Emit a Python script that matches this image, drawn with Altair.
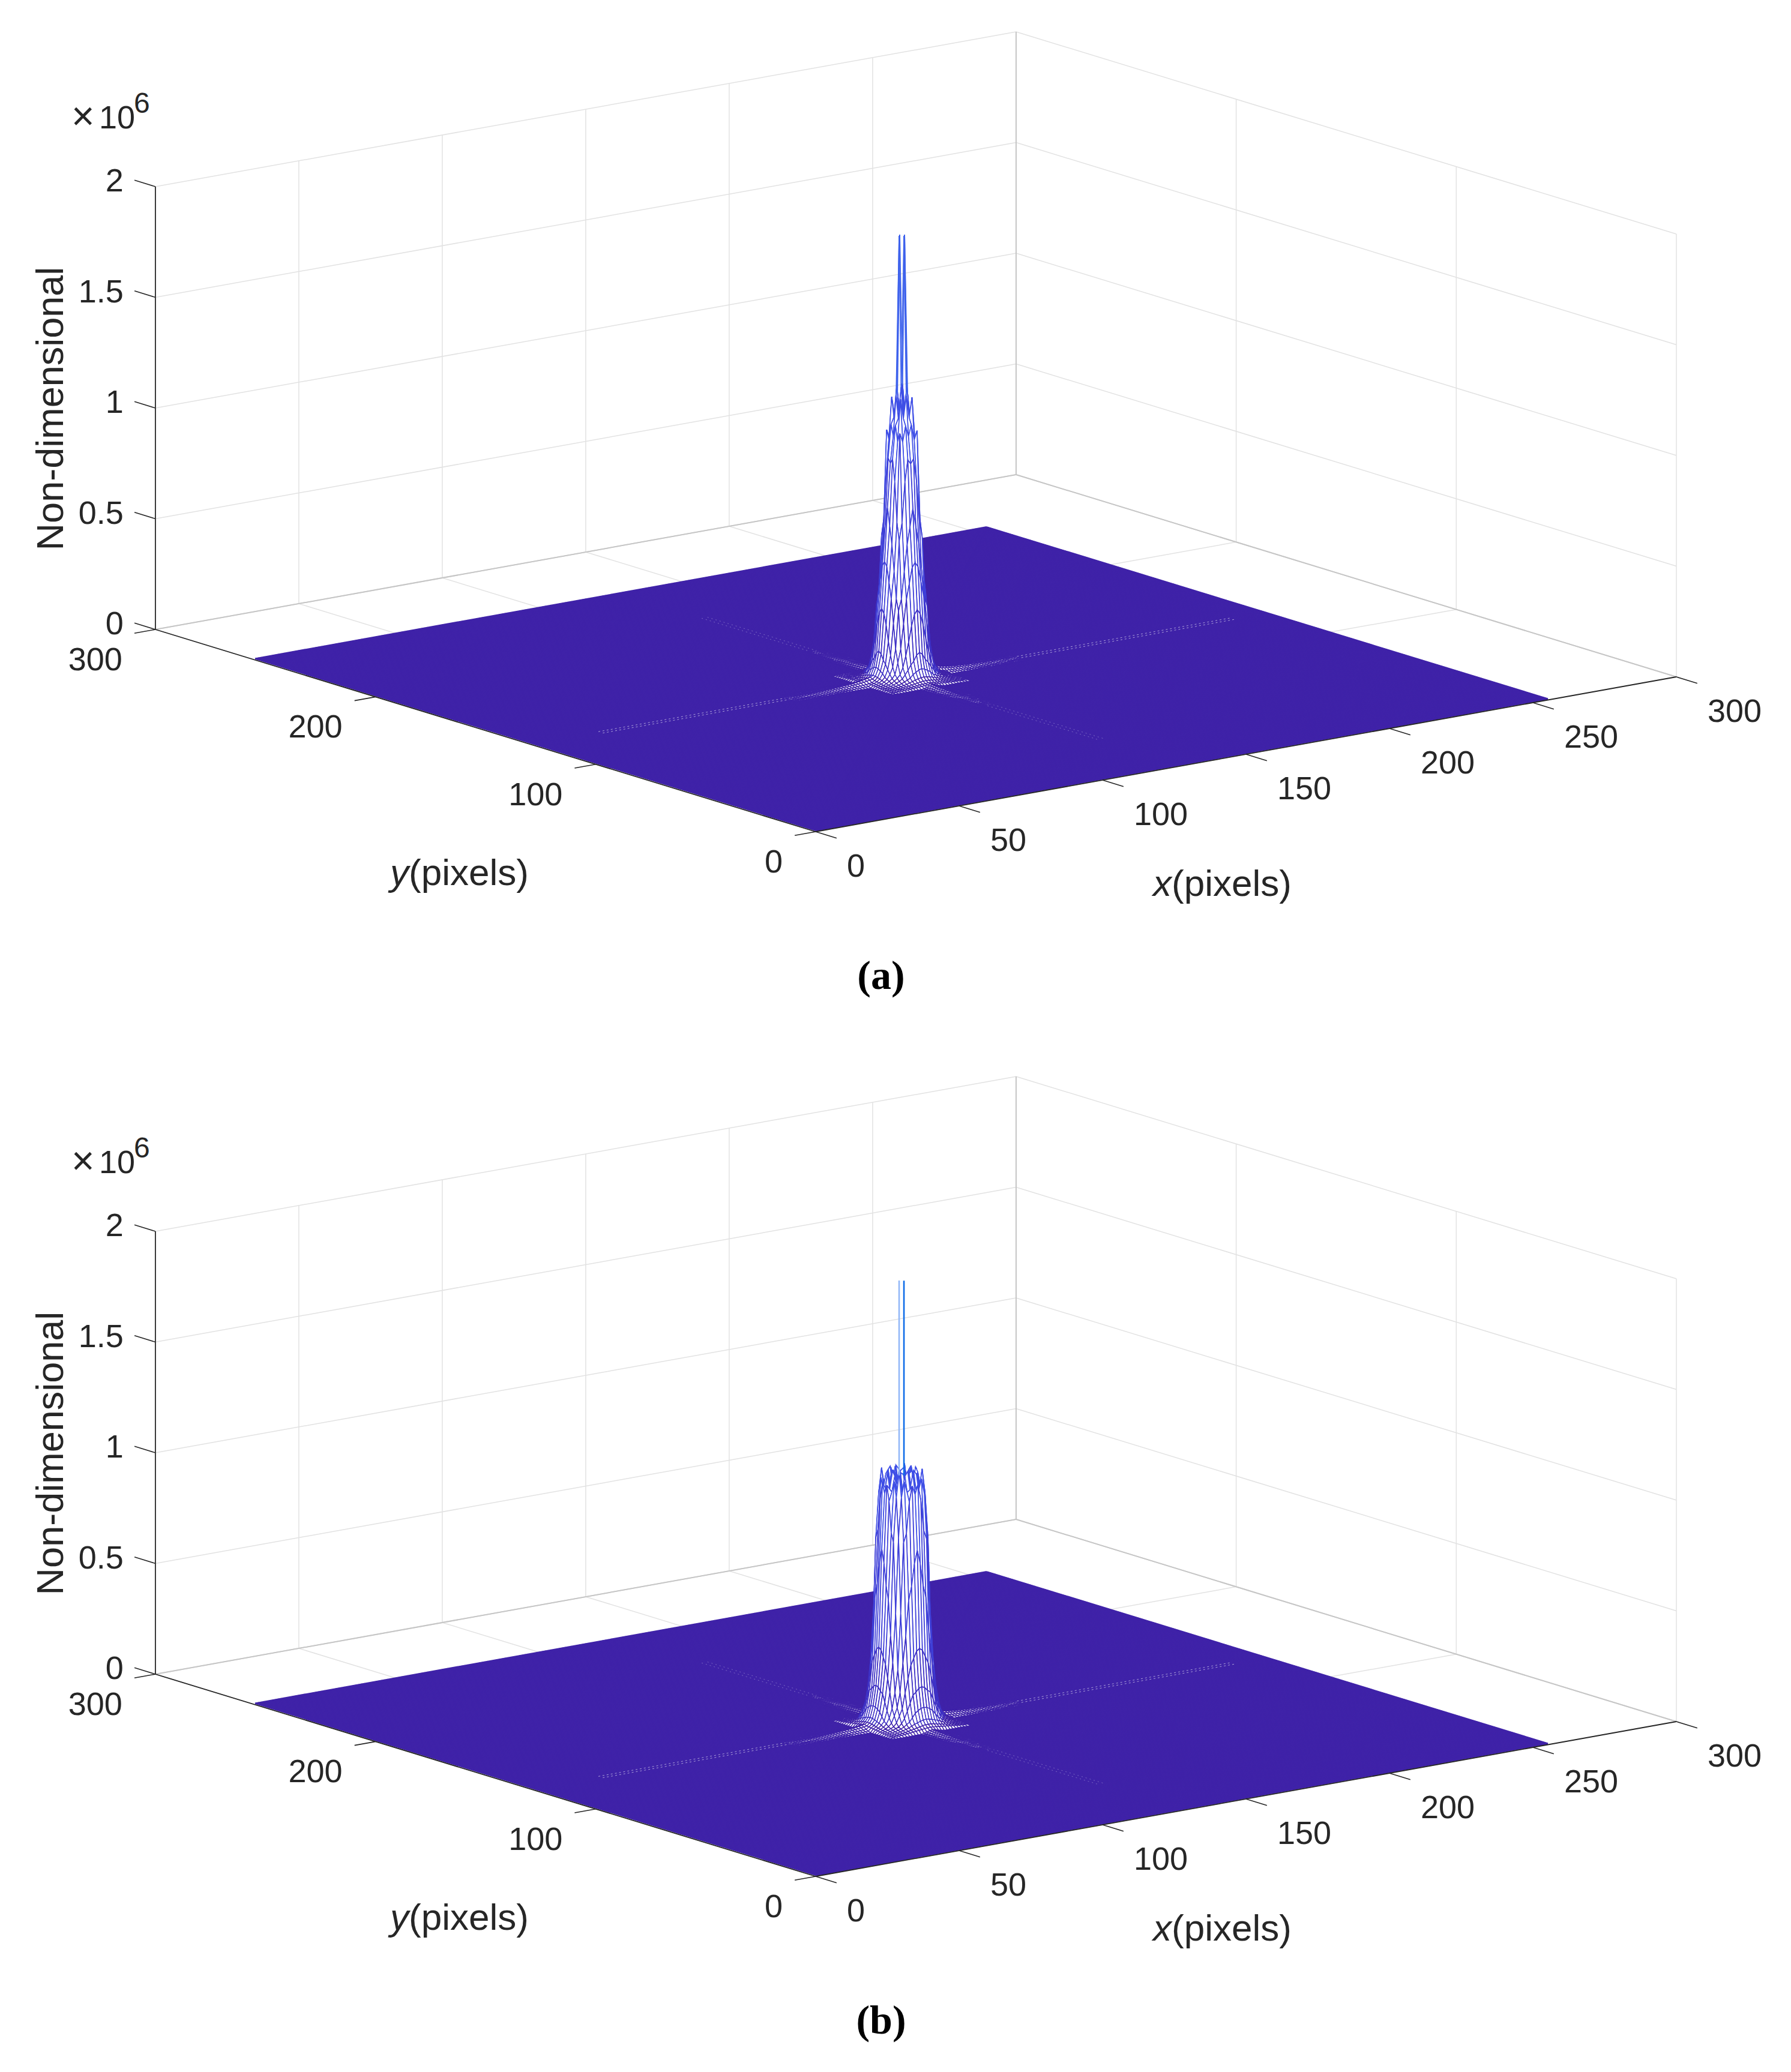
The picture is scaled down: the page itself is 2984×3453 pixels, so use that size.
import altair as alt
import pandas as pd

alt.data_transformers.disable_max_rows()

# ---- values (heights in units of 1e6) ----
x_ticks = [0, 50, 100, 150, 200, 250, 300]
y_ticks = [0, 100, 200, 300]
z_ticks = [0, 0.5, 1, 1.5, 2]
z_labels = ["0", "0.5", "1", "1.5", "2"]
panels = [0, 1]
panel_letters = ["(a)", "(b)"]
grid_n = 256
centre = 129

# height at offsets (a, b) from the centre of the peak, a <= b; row a holds b = a ... 13
tower_a = [
    [1.33, 1.20, 1.28, 1.10, 0.98, 0.78, 0.54, 0.33, 0.14, 0.07, 0.036, 0.022, 0.015, 0.011],
    [1.32, 1.18, 1.15, 1.00, 0.70, 0.52, 0.31, 0.13, 0.066, 0.034, 0.022, 0.014, 0.0105],
    [1.27, 1.08, 0.90, 0.62, 0.45, 0.26, 0.105, 0.058, 0.032, 0.02, 0.0135, 0.0098],
    [1.12, 0.72, 0.50, 0.38, 0.19, 0.09, 0.05, 0.028, 0.018, 0.0125, 0.009],
    [0.64, 0.38, 0.27, 0.13, 0.068, 0.036, 0.024, 0.016, 0.011, 0.008],
    [0.33, 0.16, 0.08, 0.05, 0.03, 0.02, 0.014, 0.01, 0.0072],
    [0.10, 0.05, 0.034, 0.024, 0.016, 0.011, 0.0085, 0.0065],
    [0.036, 0.026, 0.018, 0.013, 0.01, 0.0072, 0.0056],
    [0.02, 0.014, 0.0105, 0.008, 0.0065, 0.005],
    [0.011, 0.0085, 0.0068, 0.0056, 0.0045],
    [0.007, 0.0056, 0.0048, 0.004],
    [0.005, 0.004, 0.0034],
    [0.0034, 0.0028],
    [0.0025],
]
tower_b = [
    [1.08, 1.14, 1.04, 1.15, 1.06, 1.14, 1.05, 0.80, 0.36, 0.19, 0.10, 0.05, 0.03, 0.02],
    [1.05, 1.13, 1.06, 1.15, 1.07, 1.09, 0.74, 0.35, 0.185, 0.098, 0.048, 0.03, 0.019],
    [1.14, 1.05, 1.13, 1.06, 1.02, 0.64, 0.32, 0.17, 0.09, 0.045, 0.028, 0.018],
    [1.13, 1.06, 1.11, 0.88, 0.58, 0.29, 0.16, 0.08, 0.04, 0.025, 0.016],
    [1.15, 1.04, 0.84, 0.42, 0.23, 0.125, 0.062, 0.036, 0.022, 0.015],
    [0.86, 0.52, 0.30, 0.17, 0.09, 0.045, 0.03, 0.019, 0.013],
    [0.27, 0.17, 0.10, 0.06, 0.036, 0.024, 0.017, 0.012],
    [0.105, 0.07, 0.04, 0.027, 0.02, 0.014, 0.01],
    [0.042, 0.027, 0.021, 0.016, 0.012, 0.009],
    [0.022, 0.017, 0.013, 0.0095, 0.0075],
    [0.013, 0.01, 0.008, 0.006],
    [0.008, 0.006, 0.0048],
    [0.0048, 0.0038],
    [0.0032],
]
# ridge heights along the two axes for offsets 10, 11, ... 40
arm_x = [0.034, 0.030, 0.027, 0.024, 0.021, 0.019, 0.017, 0.015, 0.014, 0.0125,
         0.0115, 0.0105, 0.0095, 0.0088, 0.0082, 0.0075, 0.007, 0.0065, 0.006, 0.0056,
         0.0052, 0.0049, 0.0046, 0.0043, 0.004, 0.0037, 0.0035, 0.0033, 0.0031, 0.003, 0.0028]
arm_y = [0.02, 0.018, 0.016, 0.014, 0.0125, 0.0115, 0.0105, 0.0095, 0.0085, 0.0078,
         0.0072, 0.0065, 0.006, 0.0055, 0.005, 0.0046, 0.0043, 0.004, 0.0037, 0.0034,
         0.0032, 0.003, 0.0028, 0.0026, 0.0024, 0.0022, 0.0021, 0.002, 0.0019, 0.0018, 0.0017]
arm_across = [1.0, 0.8, 0.45, 0.2]

# clipped spikes: [dx, dy, z] start -> [dx, dy, z] end
spikes_a = [
    [-1, 1, 1.32, -0.95, 0, 2], [-1, -1, 1.32, -0.95, 0, 2], [-2, 0, 1.28, -0.95, 0, 2],
    [1, -1, 1.32, 0.95, 0, 2], [1, 1, 1.32, 0.95, 0, 2], [2, 0, 1.28, 0.95, 0, 2],
    [-1, 1, 1.32, 0, 0.95, 2], [1, 1, 1.32, 0, 0.95, 2], [0, 2, 1.28, 0, 0.95, 2],
    [-1, -1, 1.32, 0, -0.95, 2], [1, -1, 1.32, 0, -0.95, 2], [0, -2, 1.28, 0, -0.95, 2],
]
spikes_b = [
    [-0.95, 0, 1.12, -0.95, 0, 2],
    [0, -0.95, 1.12, 0, -0.95, 2],
]
spike_b_colours = ["#93B8F8", "#0F6DE8"]

FLOOR = "#3F22A8"
INK = "#262626"
GRID = "#E2E2E2"
EDGE = "#C6C6C6"


def height(tower, i, j):
    a, b = sorted((abs(i), abs(j)))
    z = tower[a][b - a] if b <= 13 else 0.0
    if a <= 3 and 10 <= b <= 40:
        arm = arm_x if abs(i) > abs(j) else arm_y
        z = max(z, arm[b - 10] * arm_across[a])
    return z


def colour_of(z):
    if z < 0.03:
        return FLOOR
    if z < 0.3:
        return "#3D30C4"
    if z < 0.9:
        return "#3F40D8"
    return "#3F4FE6"


# segments in data space
def seg_rows(kind_segments):
    rows = []
    n = 0
    for p in panels:
        for (x1, y1, z1, x2, y2, z2, c, w) in kind_segments:
            rows.append(dict(x=x1, y=y1, z=z1, p=p, g=n, o=0, c=c, w=w))
            rows.append(dict(x=x2, y=y2, z=z2, p=p, g=n, o=1, c=c, w=w))
            n += 1
    return rows


grid_segs = []
for v in x_ticks:
    grid_segs.append((v, 0, 0, v, 300, 0, GRID, 1.5))
    grid_segs.append((v, 300, 0, v, 300, 2, GRID, 1.5))
for v in y_ticks:
    grid_segs.append((0, v, 0, 300, v, 0, GRID, 1.5))
    grid_segs.append((300, v, 0, 300, v, 2, GRID, 1.5))
for v in z_ticks:
    grid_segs.append((0, 300, v, 300, 300, v, GRID, 1.5))
    grid_segs.append((300, 300, v, 300, 0, v, GRID, 1.5))
grid_segs.append((0, 300, 0, 300, 300, 0, EDGE, 2))
grid_segs.append((300, 300, 0, 300, 0, 0, EDGE, 2))
grid_segs.append((300, 300, 0, 300, 300, 2, EDGE, 2))

axis_segs = [
    (0, 0, 0, 300, 0, 0, INK, 1.8),
    (0, 0, 0, 0, 300, 0, INK, 1.8),
    (0, 300, 0, 0, 300, 2, INK, 1.8),
]
for v in x_ticks:
    axis_segs.append((v, 0, 0, v, -9.5, 0, INK, 1.6))
for v in y_ticks:
    axis_segs.append((0, v, 0, -7.3, v, 0, INK, 1.6))
for v in z_ticks:
    axis_segs.append((0, 300, v, 0, 309.5, v, INK, 1.6))

floor_segs = []
for k in range(1, grid_n + 1):
    floor_segs.append((k, 1, 0, k, grid_n, 0, FLOOR, 2.4))
    floor_segs.append((1, k, 0, grid_n, k, 0, FLOOR, 2.4))

# mesh cells near the peak, painted from the back to the front
cell_rows = []
gid = 0
for p, tower in zip(panels, [tower_a, tower_b]):
    cells = []
    for i in range(-40, 40):
        for j in range(-40, 40):
            corners = [(i, j), (i + 1, j), (i + 1, j + 1), (i, j + 1)]
            zs = [height(tower, a, b) for a, b in corners]
            if max(zs) > 0:
                cells.append((i + j, i, j, corners, zs))
    cells.sort(key=lambda c: -c[0])
    for _, i, j, corners, zs in cells:
        mean = sum(zs) / 4
        col = colour_of(mean)
        w = 1.9 if mean < 0.0012 else (1.4 if mean < 0.1 else 1.6)
        pts = list(zip(corners, zs)) + [(corners[0], zs[0])]
        for o, ((a, b), z) in enumerate(pts):
            cell_rows.append(dict(x=centre + a, y=centre + b, z=z, p=p, g=gid, o=o, c=col, w=w))
        gid += 1

spike_segs_rows = []
n = 0
for s in spikes_a:
    for o in (0, 1):
        spike_segs_rows.append(dict(x=centre + s[0 + 3 * o], y=centre + s[1 + 3 * o], z=s[2 + 3 * o],
                                    p=0, g=n, o=o, c="#3E62EC", w=1.7))
    n += 1
for s, col in zip(spikes_b, spike_b_colours):
    for o in (0, 1):
        spike_segs_rows.append(dict(x=centre + s[0 + 3 * o], y=centre + s[1 + 3 * o], z=s[2 + 3 * o],
                                    p=1, g=n, o=o, c=col, w=2.6))
    n += 1

# faint ridges that run on across the floor
ridge_segs = []
for off in (-1, 1):
    ridge_segs.append((centre - 105, centre + off, 0, centre - 38, centre + off, 0, "#FFFFFF", 1.0))
    ridge_segs.append((centre + 38, centre + off, 0, centre + 115, centre + off, 0, "#FFFFFF", 1.0))
ridge_y = []
for off in (-1, 1):
    ridge_y.append((centre + off, centre - 90, 0, centre + off, centre - 38, 0, "#FFFFFF", 1.0))
    ridge_y.append((centre + off, centre + 38, 0, centre + off, centre + 90, 0, "#FFFFFF", 1.0))

X = alt.X("sx:Q", scale=alt.Scale(domain=[8, 2976], nice=False, zero=False), axis=None)
Y = alt.Y("sy:Q", scale=alt.Scale(domain=[3445, 8], nice=False, zero=False), axis=None)


def projected(rows):
    return (
        alt.Chart(pd.DataFrame(rows))
        .transform_calculate(
            sx="1359 + 4.78 * datum.x - 3.667 * datum.y",
            sy="1386 + 1741 * datum.p - 0.86 * datum.x - 1.1233 * datum.y - 369 * datum.z",
        )
    )


def line_layer(rows, **mark):
    return projected(rows).mark_line(**mark).encode(
        x=X, y=Y, detail="g:N", order="o:Q",
        color=alt.Color("c:N", scale=None),
        strokeWidth=alt.StrokeWidth("w:Q", scale=None),
    )


layers = [
    line_layer(seg_rows(grid_segs)),
    line_layer(seg_rows(floor_segs)),
    line_layer(seg_rows(ridge_segs), strokeDash=[3, 4], opacity=0.55),
    line_layer(seg_rows(ridge_y), strokeDash=[2, 5], opacity=0.3),
    line_layer(cell_rows, fill="white"),
    line_layer(spike_segs_rows),
    line_layer(seg_rows(axis_segs)),
]

# tick labels
FONT = "Liberation Sans"
TICK = 54
TITLE = 62


def tick_text(rows, dx, dy, align):
    return projected(rows).mark_text(
        font=FONT, fontSize=TICK, color=INK, align=align, baseline="alphabetic", dx=dx, dy=dy
    ).encode(x=X, y=Y, text="t:N")


layers.append(tick_text([dict(x=v, y=0, z=0, p=p, t=str(v)) for p in panels for v in x_ticks], 52, 75, "left"))
layers.append(tick_text([dict(x=0, y=v, z=0, p=p, t=str(v)) for p in panels for v in y_ticks], -55, 68, "right"))
layers.append(tick_text([dict(x=0, y=300, z=v, p=p, t=t) for p in panels for v, t in zip(z_ticks, z_labels)], -53, 8, "right"))


def free_text(text, px, py, size=TITLE, font=FONT, align="left", **kw):
    return (
        alt.Chart(alt.Data(values=[{"k": 1}]))
        .mark_text(font=font, fontSize=size, color=kw.pop("color", INK), align=align, baseline="alphabetic", **kw)
        .encode(x=alt.value(px - 8), y=alt.value(py - 8), text=alt.value(text))
    )


for p, letter in zip(panels, panel_letters):
    off = 1741 * p
    layers += [
        free_text("Non-dimensional", 105, 681 + off, size=63, angle=270, align="center"),
        free_text("x", 1921, 1493 + off, fontStyle="italic"),
        free_text("(pixels)", 1952, 1493 + off),
        free_text("y", 650, 1475 + off, fontStyle="italic"),
        free_text("(pixels)", 681, 1475 + off),
        free_text("×", 119, 216 + off, size=66),
        free_text("10", 165, 214 + off, size=TICK),
        free_text("6", 223, 188 + off, size=48),
        free_text(letter, 1468, 1648 + off, size=68, font="Liberation Serif", align="center",
                  fontWeight="bold", color="#000000"),
    ]

chart = (
    alt.layer(*layers)
    .properties(width=2968, height=3437, padding=0, background="white",
                autosize=alt.AutoSizeParams(type="none"))
    .configure_view(stroke=None)
)
chart.save("out.html", embed_options={"renderer": "svg", "actions": False})
